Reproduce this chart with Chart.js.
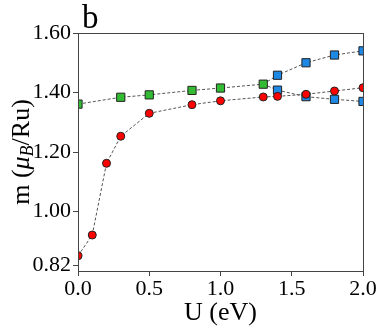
<!DOCTYPE html>
<html>
<head>
<meta charset="utf-8">
<script src="https://cdn.jsdelivr.net/npm/chart.js@4.4.1/dist/chart.umd.min.js"></script>
<style>
  html, body { margin: 0; padding: 0; background: #fff; }
  #wrap { width: 382px; height: 331px; }
</style>
</head>
<body>
<div id="wrap"><canvas id="magChart" width="382" height="331"></canvas></div>
<script>
// U (eV) values
const uRed = [0.0, 0.1, 0.2, 0.3, 0.5, 0.8, 1.0, 1.3, 1.4, 1.6, 1.8, 2.0];
const mRed = [0.851, 0.921, 1.162, 1.253, 1.330, 1.359, 1.372, 1.385, 1.387, 1.394, 1.405, 1.416];

const uGreen = [0.0, 0.3, 0.5, 0.8, 1.0, 1.3];
const mGreen = [1.361, 1.384, 1.392, 1.407, 1.415, 1.428];

// blue branches start from the last green point (line only)
const uBlueUp = [1.3, 1.4, 1.6, 1.8, 2.0];
const mBlueUp = [1.428, 1.458, 1.500, 1.526, 1.540];
const uBlueLow = [1.3, 1.4, 1.6, 1.8, 2.0];
const mBlueLow = [1.428, 1.408, 1.386, 1.377, 1.370];

const yTicks = [0.82, 1.00, 1.20, 1.40, 1.60];
const xTicks = [0.0, 0.5, 1.0, 1.5, 2.0];

const serif = "'Liberation Serif', 'DejaVu Serif', serif";
const lineCol = '#555555';

function toXY(xs, ys) {
    return xs.map((x, i) => ({ x: x, y: ys[i] }));
}

// frame round the plot area + axis titles
const framePlugin = {
    id: 'frame',
    afterDraw(chart) {
        const { ctx, chartArea } = chart;
        ctx.save();
        ctx.strokeStyle = '#444';
        ctx.lineWidth = 1;
        ctx.strokeRect(chartArea.left + 0.5, chartArea.top + 0.5,
            chartArea.right - chartArea.left, chartArea.bottom - chartArea.top);

        // panel label
        ctx.fillStyle = '#000';
        ctx.textBaseline = 'alphabetic';
        ctx.textAlign = 'left';
        ctx.font = "33px " + serif;
        ctx.fillText('b', 82, 28);

        // x title
        ctx.font = "26px " + serif;
        ctx.textAlign = 'center';
        ctx.fillText('U (eV)', (chartArea.left + chartArea.right) / 2, 320);

        // y title, rotated, with subscript
        ctx.translate(29, 152);
        ctx.rotate(-Math.PI / 2);
        const parts = [
            { t: 'm (', f: "26px " + serif, dy: 0 },
            { t: 'μ', f: "italic 26px " + serif, dy: 0 },
            { t: 'B', f: "italic 18px " + serif, dy: 4 },
            { t: '/Ru)', f: "26px " + serif, dy: 0 }
        ];
        let total = 0;
        parts.forEach(p => { ctx.font = p.f; total += ctx.measureText(p.t).width; });
        let x = -total / 2;
        ctx.textAlign = 'left';
        parts.forEach(p => {
            ctx.font = p.f;
            ctx.fillText(p.t, x, p.dy);
            x += ctx.measureText(p.t).width;
        });
        ctx.restore();
    }
};

const ctx = document.getElementById('magChart').getContext('2d');
new Chart(ctx, {
    type: 'scatter',
    data: {
        datasets: [
            {
                label: 'blue up',
                data: toXY(uBlueUp, mBlueUp),
                showLine: true,
                borderColor: lineCol,
                borderWidth: 1,
                borderDash: [3, 2],
                pointStyle: 'rect',
                pointRadius: uBlueUp.map((u, i) => i === 0 ? 0 : 5.8),
                pointBackgroundColor: '#1e88e5',
                pointBorderColor: '#222',
                pointBorderWidth: 1,
                order: 3
            },
            {
                label: 'blue low',
                data: toXY(uBlueLow, mBlueLow),
                showLine: true,
                borderColor: lineCol,
                borderWidth: 1,
                borderDash: [3, 2],
                pointStyle: 'rect',
                pointRadius: uBlueLow.map((u, i) => i === 0 ? 0 : 5.8),
                pointBackgroundColor: '#1e88e5',
                pointBorderColor: '#222',
                pointBorderWidth: 1,
                order: 4
            },
            {
                label: 'red',
                data: toXY(uRed, mRed),
                showLine: true,
                borderColor: lineCol,
                borderWidth: 1,
                borderDash: [3, 2],
                pointStyle: 'circle',
                pointRadius: 4,
                pointBackgroundColor: '#ff0000',
                pointBorderColor: '#222',
                pointBorderWidth: 1,
                order: 2
            },
            {
                label: 'green',
                data: toXY(uGreen, mGreen),
                showLine: true,
                borderColor: lineCol,
                borderWidth: 1,
                borderDash: [3, 2],
                pointStyle: 'rect',
                pointRadius: 5.8,
                pointBackgroundColor: '#33bb33',
                pointBorderColor: '#222',
                pointBorderWidth: 1,
                order: 1
            }
        ]
    },
    options: {
        responsive: false,
        animation: false,
        layout: { padding: { top: 33, right: 19, left: 0, bottom: 0 } },
        plugins: {
            legend: { display: false },
            tooltip: { enabled: false }
        },
        scales: {
            x: {
                type: 'linear',
                min: 0,
                max: 2,
                afterBuildTicks(axis) { axis.ticks = xTicks.map(v => ({ value: v })); },
                afterFit(axis) { axis.height = 60; },
                ticks: {
                    color: '#000',
                    padding: 0,
                    maxRotation: 0,
                    font: { family: serif, size: 22 },
                    callback: v => Number(v).toFixed(1)
                },
                grid: { drawOnChartArea: false, tickLength: 5, color: '#444' },
                border: { color: '#444' }
            },
            y: {
                type: 'linear',
                min: 0.80,
                max: 1.60,
                afterBuildTicks(axis) { axis.ticks = yTicks.map(v => ({ value: v })); },
                afterFit(axis) { axis.width = 78; },
                ticks: {
                    color: '#000',
                    padding: 2,
                    font: { family: serif, size: 22 },
                    callback: v => Number(v).toFixed(2)
                },
                grid: { drawOnChartArea: false, tickLength: 5, color: '#444' },
                border: { color: '#444' }
            }
        }
    },
    plugins: [framePlugin]
});
</script>
</body>
</html>
